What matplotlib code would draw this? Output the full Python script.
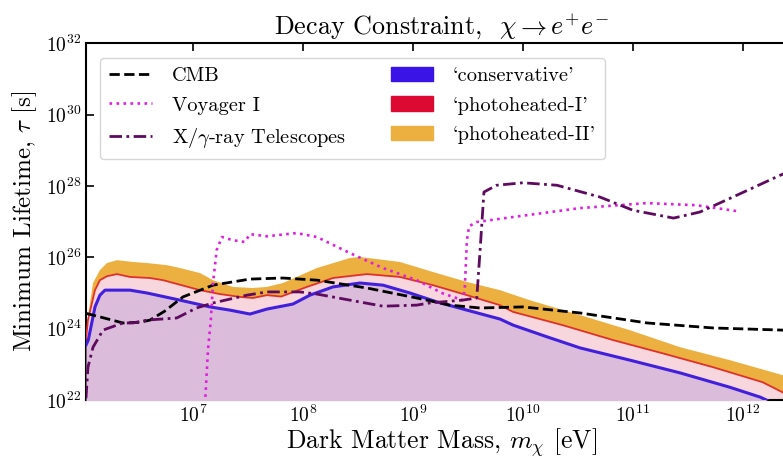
import numpy as np
import matplotlib
matplotlib.use("Agg")
import matplotlib.pyplot as plt

# values, as log10(mass / eV) and log10(lifetime / s)
cons_logm = [6.024, 6.045, 6.106, 6.151, 6.197, 6.27, 6.424, 6.579, 6.879, 7.152, 7.334, 7.516,
             7.671, 7.907, 8.062, 8.271, 8.517, 8.726, 8.972, 9.217, 9.49, 9.791, 9.91, 10.22,
             10.52, 10.97, 11.43, 11.88, 12.16, 12.29, 12.5]
cons_logt = [23.54, 23.68, 24.61, 24.94, 25.08, 25.08, 25.08, 25.0, 24.80, 24.61, 24.52, 24.41,
             24.55, 24.69, 24.94, 25.17, 25.28, 25.22, 25.0, 24.75, 24.52, 24.27, 24.1, 23.77,
             23.46, 23.12, 22.76, 22.36, 22.08, 21.89, 21.5]

ph1_logm = [6.024, 6.042, 6.106, 6.151, 6.215, 6.306, 6.424, 6.606, 6.725, 7.061, 7.243, 7.425,
            7.543, 7.671, 7.8, 8.034, 8.271, 8.58, 8.88, 9.18, 9.49, 9.79, 9.91, 10.36,
            10.82, 11.27, 11.73, 12.18, 12.36, 12.5]
ph1_logt = [23.7, 24.24, 25.08, 25.36, 25.47, 25.53, 25.45, 25.42, 25.36, 25.08, 24.97, 24.89,
            24.86, 24.94, 24.9, 25.17, 25.42, 25.53, 25.45, 25.22, 24.94, 24.66, 24.47, 24.10,
            23.68, 23.31, 22.92, 22.50, 22.22, 21.95]

ph2_logm = [6.024, 6.088, 6.151, 6.215, 6.306, 6.452, 6.579, 6.761, 6.879, 7.061, 7.18, 7.36,
            7.54, 7.67, 7.816, 8.125, 8.425, 8.517, 8.88, 9.18, 9.49, 9.79, 10.06, 10.52,
            10.97, 11.43, 11.88, 12.36, 12.5]
ph2_logt = [23.96, 25.28, 25.64, 25.84, 25.92, 25.87, 25.84, 25.78, 25.70, 25.56, 25.36, 25.17,
            25.14, 25.17, 25.28, 25.70, 25.98, 26.01, 25.87, 25.59, 25.31, 25.08, 24.80, 24.38,
            23.96, 23.48, 23.12, 22.70, 22.58]

cmb_logm = [6.024, 6.151, 6.36, 6.515, 6.606, 6.74, 6.906, 7.18, 7.516, 7.816, 8.125, 8.58,
            9.034, 9.336, 9.609, 10.0, 10.52, 11.13, 11.73, 12.36, 12.5]
cmb_logt = [24.43, 24.33, 24.16, 24.18, 24.24, 24.49, 24.89, 25.22, 25.39, 25.42, 25.36, 25.14,
            24.86, 24.66, 24.58, 24.61, 24.44, 24.16, 24.02, 23.96, 23.95]

voy_logm = [7.10, 7.134, 7.16, 7.18, 7.213, 7.261, 7.36, 7.47, 7.516, 7.67, 7.94, 8.125,
            8.425, 8.726, 9.034, 9.27, 9.45, 9.47, 9.49, 9.51, 9.58, 9.91, 10.52, 11.13,
            11.58, 11.96]
voy_logt = [21.5, 23.40, 24.24, 25.28, 26.20, 26.57, 26.48, 26.43, 26.65, 26.59, 26.68, 26.57,
            26.12, 25.70, 25.36, 24.99, 24.80, 25.08, 26.48, 26.87, 26.99, 27.13, 27.38, 27.52,
            27.46, 27.29]

xray_logm = [6.024, 6.042, 6.088, 6.179, 6.36, 6.45, 6.579, 6.85, 7.03, 7.18, 7.49, 7.67,
             7.97, 8.125, 8.425, 8.726, 9.034, 9.15, 9.45, 9.58, 9.61, 9.645, 9.76, 10.0,
             10.31, 10.70, 11.0, 11.37, 11.61, 11.91, 12.34, 12.5]
xray_logt = [22.05, 22.92, 23.48, 23.96, 24.16, 24.16, 24.24, 24.30, 24.58, 24.72, 24.94, 25.03,
             25.03, 24.97, 24.80, 24.63, 24.66, 24.72, 24.80, 24.86, 26.20, 27.83, 28.02, 28.09,
             28.02, 27.69, 27.32, 27.10, 27.27, 27.69, 28.30, 28.5]

y_ticks = [22, 24, 26, 28, 30, 32]
x_ticks = [7, 8, 9, 10, 11, 12]


def tolin(v):
    return 10.0 ** np.array(v)


plt.rcParams['font.family'] = 'serif'
plt.rcParams['font.serif'] = ['cmr10', 'DejaVu Serif']
plt.rcParams['mathtext.fontset'] = 'cm'
plt.rcParams['axes.formatter.use_mathtext'] = True
plt.rcParams['axes.unicode_minus'] = False

fig = plt.figure(figsize=(7.83, 4.59), dpi=100)
ax = fig.add_axes([0.1098, 0.1285, 0.909, 0.7772])

ax.set_xscale('log')
ax.set_yscale('log')

c_m, c_t = tolin(cons_logm), tolin(cons_logt)
r_m, r_t = tolin(ph1_logm), tolin(ph1_logt)
o_m, o_t = tolin(ph2_logm), tolin(ph2_logt)

# orange band sits between photoheated-I and photoheated-II
ax.fill(np.concatenate([o_m, r_m[::-1]]), np.concatenate([o_t, r_t[::-1]]),
        color='#ebb040', lw=0, zorder=1)
ax.fill_between(r_m, 1e20, r_t, color='#f7d6de', lw=0, zorder=2)
ax.fill_between(c_m, 1e20, c_t, color='#dbbcdb', lw=0, zorder=3)
ax.plot(r_m, r_t, color='#e0302a', lw=1.3, zorder=4)
ax.plot(c_m, c_t, color='#4020dc', lw=2.2, zorder=5)

ax.plot(tolin(cmb_logm), tolin(cmb_logt), color='black', ls='--', lw=2, zorder=6, label='CMB')
ax.plot(tolin(voy_logm), tolin(voy_logt), color='#e01ee0', ls=':', lw=1.9, zorder=6,
        label='Voyager I')
ax.plot(tolin(xray_logm), tolin(xray_logt), color='#5e0a5e', lw=2, zorder=6,
        dashes=(4.5, 1.6, 1, 1.6), label=r'X/$\gamma$-ray Telescopes')

# patch handles for the three bands
ax.fill_between([], [], [], color='#3a14e6', label="`conservative'")
ax.fill_between([], [], [], color='#dc0a32', label="`photoheated-I'")
ax.fill_between([], [], [], color='#ebb040', label="`photoheated-II'")

ax.set_xlim(10 ** 6.024, 10 ** 12.5)
ax.set_ylim(1e22, 1e32)
ax.set_xticks(tolin(x_ticks))
ax.set_yticks(tolin(y_ticks))
ax.minorticks_off()
ax.tick_params(which='both', direction='in', top=True, right=True, length=6, width=1.2,
               labelsize=14)
for s in ax.spines.values():
    s.set_linewidth(1.5)

ax.set_xlabel(r'Dark Matter Mass, $m_\chi$ [eV]', fontsize=18.5, labelpad=0)
ax.set_ylabel(r'Minimum Lifetime, $\tau$ [s]', fontsize=18, labelpad=5)
ax.set_title(r'Decay Constraint,  $\chi \rightarrow e^{+}e^{-}$', fontsize=18.8, pad=7)

ax.legend(loc='upper left', ncol=2, fontsize=14.7, handlelength=2.1, handletextpad=0.95,
          columnspacing=2.2, labelspacing=0.55, borderaxespad=0.7, borderpad=0.45)

fig.savefig('out.png', dpi=100)
